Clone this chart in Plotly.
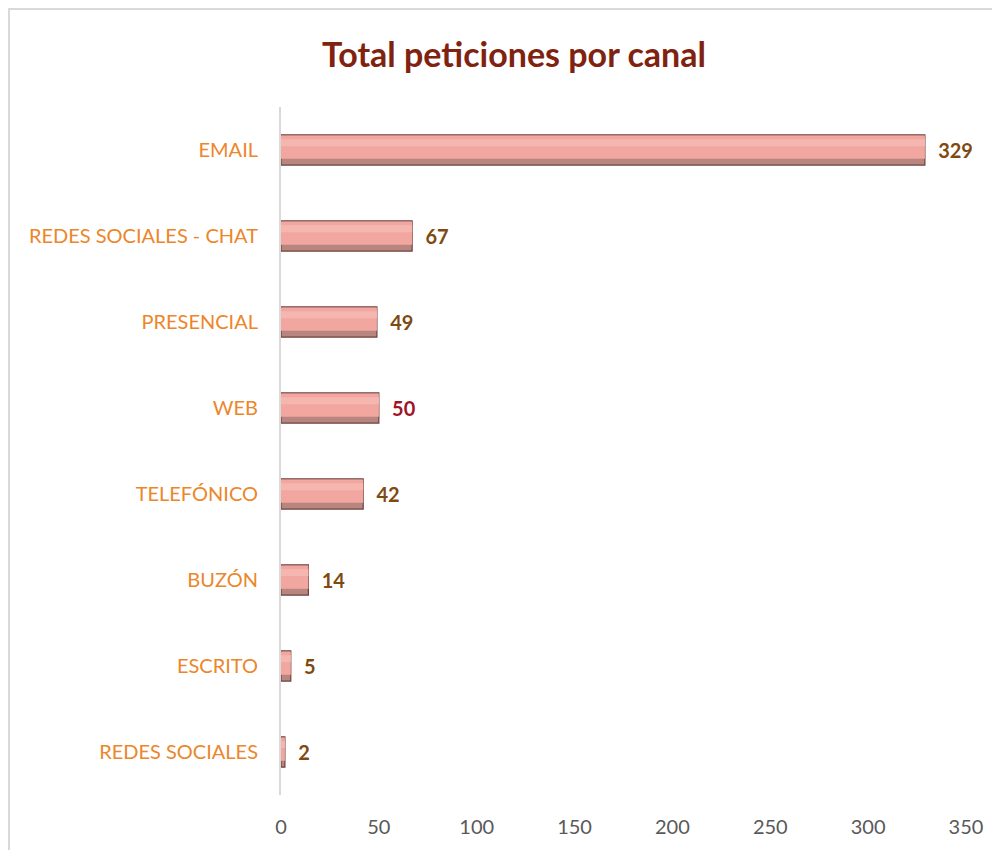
import plotly.graph_objects as go

canales = ["EMAIL", "REDES SOCIALES - CHAT", "PRESENCIAL", "WEB",
           "TELEFÓNICO", "BUZÓN", "ESCRITO", "REDES SOCIALES"]
peticiones = [329, 67, 49, 50, 42, 14, 5, 2]
color_etiqueta = ["#7F4A12", "#7F4A12", "#7F4A12", "#A01428",
                  "#7F4A12", "#7F4A12", "#7F4A12", "#7F4A12"]
ticks_x = [0, 50, 100, 150, 200, 250, 300, 350]

fig = go.Figure()

# base oscura (bisel inferior y borde)
fig.add_trace(go.Bar(
    y=canales, x=peticiones, orientation="h", width=0.35,
    marker=dict(color="#B8857F", line=dict(color="#6E403C", width=1.2)),
    hoverinfo="skip", showlegend=False,
))
# cuerpo rosado
fig.add_trace(go.Bar(
    y=canales, x=peticiones, orientation="h", width=0.27, offset=-0.168,
    marker=dict(color="#F2A6A0", line=dict(width=0)),
    hoverinfo="skip", showlegend=False,
))
# brillo suave
fig.add_trace(go.Bar(
    y=canales, x=peticiones, orientation="h", width=0.08, offset=-0.125,
    marker=dict(color="#F6B6B0", line=dict(width=0)),
    hoverinfo="skip", showlegend=False,
))
# etiquetas de valor
fig.add_trace(go.Bar(
    y=canales, x=peticiones, orientation="h", width=0.35,
    marker=dict(color="rgba(0,0,0,0)", line=dict(width=0)),
    text=["\u00a0\u00a0<b>" + str(v) + "</b>" for v in peticiones],
    textposition="outside", constraintext="none",
    textfont=dict(family="Lato", size=20, color=color_etiqueta),
    cliponaxis=False, showlegend=False,
))

fig.update_layout(
    width=992, height=842,
    barmode="overlay",
    paper_bgcolor="white", plot_bgcolor="white",
    margin=dict(l=273, r=34, t=99, b=55),
    title=dict(text="<b>Total peticiones por canal</b>", x=0.51, xanchor="center",
               y=0.944, yanchor="middle",
               font=dict(family="Lato", size=34, color="#7F2310")),
    font=dict(family="Lato"),
    xaxis=dict(range=[0, 350], tickvals=ticks_x, showgrid=False, zeroline=False,
               showline=False, ticks="outside", ticklen=14, tickcolor="white",
               tickfont=dict(size=20, color="#595959")),
    yaxis=dict(autorange="reversed", showline=True, linecolor="#D9D9D9", linewidth=2,
               showgrid=False, ticks="outside", ticklen=17, tickcolor="white",
               tickfont=dict(size=20, color="#EC862A")),
    shapes=[dict(type="rect", xref="paper", yref="paper",
                 x0=(1 - 273) / 685, x1=1.2, y0=-0.2, y1=1 + (99 - 1) / 688,
                 line=dict(color="#D9D9D9", width=2), fillcolor="rgba(0,0,0,0)",
                 layer="below")],
)

fig.write_html("out.html")
